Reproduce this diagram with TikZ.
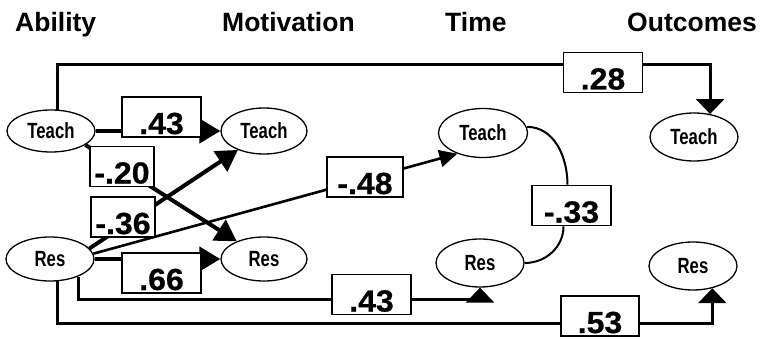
\documentclass[tikz,border=0pt]{standalone}
\usepackage{fontspec}
\setmainfont{Liberation Sans}
\newfontfamily\narrowfont[FakeStretch=0.76]{Liberation Sans}
\newfontfamily\numfont[FakeStretch=1.05,FakeBold=0.6]{Liberation Sans}
\usetikzlibrary{arrows.meta,shapes.geometric}
\begin{document}
\begin{tikzpicture}[x=1pt,y=1pt,
  var/.style={ellipse, draw, line width=1.3pt, fill=white, inner sep=0pt,
    font=\narrowfont\bfseries\fontsize{22}{24}\selectfont},
  coef/.style={draw, line width=1.6pt, fill=white, inner sep=0pt,
    text height=37pt, text depth=3pt, minimum width=79pt,
    font=\numfont\bfseries\fontsize{30.5}{32}\selectfont},
  hdr/.style={anchor=base west, inner sep=0pt,
    font=\bfseries\fontsize{26.5}{30}\selectfont},
  fat/.style={line width=4.5pt},
  diag/.style={line width=4pt},
  thinl/.style={line width=2.6pt},
  route/.style={line width=3pt},
  curvel/.style={line width=2pt},
  bigtip/.style={-{Triangle[length=21pt,width=24pt]}},
  midtip/.style={-{Triangle[length=18pt,width=17pt]}},
  flattip/.style={-{Triangle[length=15pt,width=28pt]}},
]
\useasboundingbox (0,0) rectangle (766,338);

% headers
\node[hdr] (h1) at (15,306) {Ability};
\node[hdr] (h2) at (222,306) {Motivation};
\node[hdr] (h3) at (445,306) {Time};
\node[hdr] (h4) at (627,306) {Outcomes};

% variables
\node[var, minimum width=88pt, minimum height=42pt] (AT) at (51,207) {Teach};
\node[var, minimum width=88pt, minimum height=44pt] (AR) at (50,79) {Res};
\node[var, minimum width=86pt, minimum height=46pt] (MT) at (264,207) {Teach};
\node[var, minimum width=86pt, minimum height=44pt] (MR) at (264,79) {Res};
\node[var, minimum width=89pt, minimum height=49pt] (TT) at (483,205) {Teach};
\node[var, minimum width=88pt, minimum height=48pt] (TR) at (480,75) {Res};
\node[var, minimum width=88pt, minimum height=48pt] (OT) at (694,201) {Teach};
\node[var, minimum width=88pt, minimum height=48pt] (OR) at (693,72) {Res};

\coordinate (ytop) at (0,273);
\coordinate (ymid) at (0,39);
\coordinate (ylow) at (0,15);

% paths
\draw[fat, bigtip] (AT.east) -- (MT.west);
\draw[fat, bigtip] (AR.east) -- (MR.west);
\draw[diag, bigtip] (AT.-22) -- (MR.147);
\draw[diag, bigtip] (AR.15) -- (MT.-144);
\draw[thinl, midtip] (AR.7) -- (TT.-141);
\draw[route, flattip] (AT.73) -- (AT.73 |- ytop) -| (OT.55);
\draw[route, flattip] (AR.-32) -- (AR.-32 |- ymid) -| (TR.south);
\draw[route, flattip] (AR.-71) -- (AR.-71 |- ylow) -| (OR.-49);

% coefficient boxes
\node[coef] (b28) at (603,265.5) {.28};
\node[coef] (b43a) at (161.5,221) {.43};
\node[coef, minimum width=64pt] (b20) at (122,171.5) {-.20};
\node[coef, minimum width=64pt] (b36) at (123,121) {-.36};
\node[coef, minimum width=76pt] (b48) at (365,161) {-.48};
\node[coef] (b33) at (571.5,132.5) {-.33};
\node[coef] (b66) at (161.5,65) {.66};
\node[coef] (b43b) at (371.5,43.5) {.43};
\node[coef, minimum width=78pt] (b53) at (600,22) {.53};

% correlation
\draw[curvel] (TT.8) to[out=0,in=90] ([xshift=-4pt]b33.north);
\draw[curvel] ([xshift=-8pt]b33.south) to[out=-90,in=0] (TR.east);
\end{tikzpicture}
\end{document}
